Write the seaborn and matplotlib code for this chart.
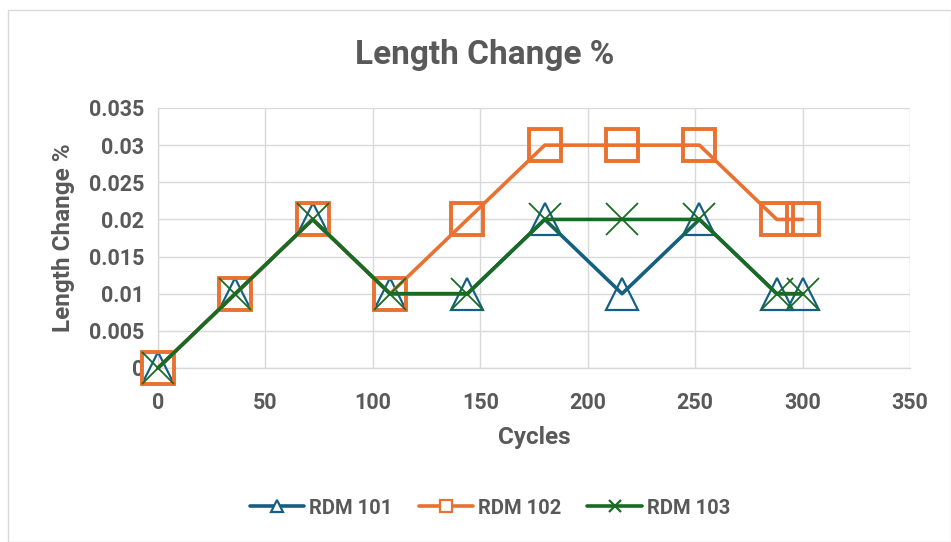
import matplotlib
matplotlib.use("Agg")
import matplotlib.pyplot as plt
import seaborn as sns
import pandas as pd
from matplotlib.lines import Line2D
from matplotlib.patches import Rectangle

cycles = [0, 36, 72, 108, 144, 180, 216, 252, 288, 300]
rdm101 = [0, 0.01, 0.02, 0.01, 0.01, 0.02, 0.01, 0.02, 0.01, 0.01]
rdm102 = [0, 0.01, 0.02, 0.01, 0.02, 0.03, 0.03, 0.03, 0.02, 0.02]
rdm103 = [0, 0.01, 0.02, 0.01, 0.01, 0.02, 0.02, 0.02, 0.01, 0.01]
series_names = ["RDM 101", "RDM 102", "RDM 103"]
x_ticks = [0, 50, 100, 150, 200, 250, 300, 350]
y_ticks = [0, 0.005, 0.01, 0.015, 0.02, 0.025, 0.03, 0.035]
y_tick_labels = ["0", "0.005", "0.01", "0.015", "0.02", "0.025", "0.03", "0.035"]

sns.set_theme(style="white")
plt.rcParams["font.family"] = ["Roboto", "DejaVu Sans"]
TXT = "#595959"

df = pd.DataFrame({
    "Cycles": cycles * 3,
    "Value": rdm101 + rdm102 + rdm103,
    "Series": [s for s in series_names for _ in cycles],
})

colors = {"RDM 101": "#156082", "RDM 102": "#E97132", "RDM 103": "#196B24"}
markers = {"RDM 101": "^", "RDM 102": "s", "RDM 103": "x"}
msize = {"RDM 101": 23, "RDM 102": 23, "RDM 103": 23}
mew = {"RDM 101": 1.6, "RDM 102": 2.8, "RDM 103": 1.3}

fig = plt.figure(figsize=(9.51, 5.42), dpi=100)
fig.patches.append(Rectangle((8/951, 0), 1 - 8/951, 1 - 10/542, transform=fig.transFigure,
                             fill=False, edgecolor="#d9d9d9", linewidth=1.0))
ax = fig.add_axes([158/951, 1 - 368/542, (910 - 158)/951, (368 - 108)/542])

for name in series_names:
    sub = df[df["Series"] == name]
    sns.lineplot(data=sub, x="Cycles", y="Value", ax=ax, color=colors[name],
                 linewidth=2.6, marker=markers[name], markersize=msize[name],
                 markerfacecolor="none", markeredgecolor=colors[name],
                 markeredgewidth=mew[name], legend=False, clip_on=False, zorder=3)

ax.set_xlim(0, 350)
ax.set_ylim(0, 0.035)
ax.set_xticks(x_ticks)
ax.set_xticklabels([str(t) for t in x_ticks])
ax.set_yticks(y_ticks)
ax.set_yticklabels(y_tick_labels)
ax.grid(True, color="#d9d9d9", linewidth=1.0)
ax.set_axisbelow(True)
for s in ["top", "right"]:
    ax.spines[s].set_visible(False)
for s in ["left", "bottom"]:
    ax.spines[s].set_color("#d9d9d9")
    ax.spines[s].set_linewidth(1.0)
ax.tick_params(axis="both", length=0, labelsize=15.5, labelcolor=TXT)
ax.tick_params(axis="y", pad=10)
ax.tick_params(axis="x", pad=17)
for lab in ax.get_xticklabels() + ax.get_yticklabels():
    lab.set_fontweight("bold")

ax.set_xlabel("Cycles", fontsize=17.5, fontweight="bold", color=TXT, labelpad=9)
ax.set_ylabel("Length Change %", fontsize=17.5, fontweight="bold", color=TXT, labelpad=10)
fig.text(485/951, 1 - 55/542, "Length Change %", ha="center", va="center",
         fontsize=24, fontweight="bold", color=TXT)

handles = [Line2D([0], [0], color=colors[n], linewidth=2.6, marker=markers[n],
                  markersize=9, markerfacecolor="white", markeredgecolor=colors[n],
                  markeredgewidth=1.6) for n in series_names]
leg = fig.legend(handles, series_names, loc="center", bbox_to_anchor=(490/951, 1 - 508/542),
                 ncol=3, frameon=False, handlelength=2.7, columnspacing=1.3,
                 handletextpad=0.25, prop={"size": 14.5, "weight": "bold"})
for t in leg.get_texts():
    t.set_color(TXT)

fig.savefig("out.png", dpi=100)
